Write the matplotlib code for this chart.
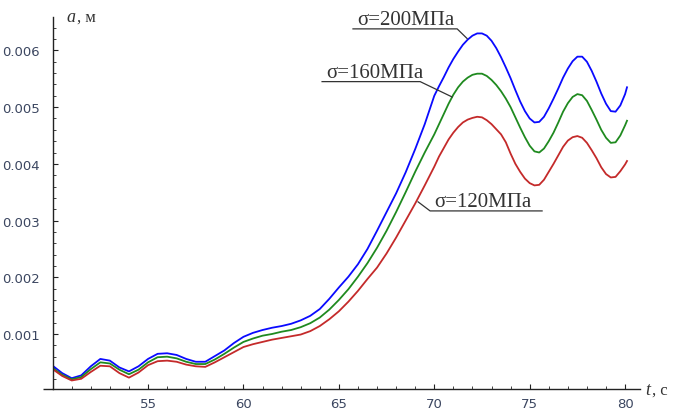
import matplotlib
matplotlib.use("Agg")
import matplotlib.pyplot as plt
import numpy as np

t = [50.0, 50.5, 51.0, 51.5, 52.0, 52.5, 53.0, 53.5, 54.0, 54.5, 55.0, 55.5, 56.0, 56.5,
     57.0, 57.5, 58.0, 58.5, 59.0, 59.5, 60.0, 60.5, 61.0, 61.5, 62.0, 62.5, 63.0, 63.5,
     64.0, 64.5, 65.0, 65.5, 66.0, 66.5, 67.0, 67.5, 68.0, 68.5, 69.0, 69.5,
     70.0, 70.25, 70.5, 70.75, 71.0, 71.25, 71.5, 71.75, 72.0, 72.25, 72.5, 72.75,
     73.0, 73.25, 73.5, 73.75, 74.0, 74.25, 74.5, 74.75, 75.0, 75.25, 75.5, 75.75,
     76.0, 76.25, 76.5, 76.75, 77.0, 77.25, 77.5, 77.75, 78.0, 78.25, 78.5, 78.75,
     79.0, 79.25, 79.5, 79.75, 80.0, 80.1]

a_200 = [0.00044, 0.00031, 0.00022, 0.00027, 0.00043, 0.00056, 0.00053, 0.00041, 0.00034,
         0.00043, 0.00056, 0.00065, 0.00066, 0.00063, 0.00056, 0.00051, 0.00051, 0.00061,
         0.00071, 0.00084, 0.00095, 0.00102, 0.00107, 0.00111, 0.00114, 0.00118, 0.00124,
         0.00132, 0.00144, 0.00162, 0.00182, 0.00201, 0.00223, 0.00250, 0.00282, 0.00315,
         0.00348, 0.00385, 0.00426, 0.00470,
         0.00520, 0.00537, 0.00553, 0.00570, 0.00585, 0.00598, 0.00610, 0.00619, 0.00626,
         0.00630, 0.00630, 0.00626, 0.00617, 0.00604, 0.00588, 0.00570, 0.00551, 0.00530,
         0.00510, 0.00493, 0.00480, 0.00473, 0.00474, 0.00483, 0.00498, 0.00515, 0.00533,
         0.00552, 0.00568, 0.00581, 0.00589, 0.00589, 0.00580, 0.00564, 0.00545, 0.00524,
         0.00506, 0.00493, 0.00492, 0.00503, 0.00523, 0.00535]

a_160 = [0.00040, 0.00028, 0.00020, 0.00024, 0.00038, 0.00050, 0.00048, 0.00037, 0.00029,
         0.00037, 0.00050, 0.00059, 0.00060, 0.00057, 0.00051, 0.00047, 0.00047, 0.00055,
         0.00065, 0.00076, 0.00086, 0.00092, 0.00097, 0.00100, 0.00104, 0.00107, 0.00112,
         0.00119, 0.00129, 0.00143, 0.00160, 0.00179, 0.00201, 0.00225, 0.00252, 0.00282,
         0.00315, 0.00350, 0.00386, 0.00420,
         0.00452, 0.00470, 0.00488, 0.00506, 0.00522, 0.00535, 0.00545, 0.00552, 0.00557,
         0.00559, 0.00559, 0.00555, 0.00548, 0.00539, 0.00528, 0.00515, 0.00500, 0.00482,
         0.00464, 0.00447, 0.00432, 0.00422, 0.00420, 0.00427, 0.00440, 0.00455, 0.00473,
         0.00492, 0.00507, 0.00518, 0.00523, 0.00521, 0.00511, 0.00495, 0.00478, 0.00460,
         0.00446, 0.00437, 0.00438, 0.00450, 0.00468, 0.00476]

a_120 = [0.00038, 0.00026, 0.00018, 0.00021, 0.00033, 0.00044, 0.00043, 0.00031, 0.00023,
         0.00032, 0.00045, 0.00052, 0.00053, 0.00051, 0.00046, 0.00043, 0.00042, 0.00050,
         0.00059, 0.00068, 0.00077, 0.00082, 0.00086, 0.00090, 0.00093, 0.00096, 0.00099,
         0.00105, 0.00114, 0.00126, 0.00140, 0.00157, 0.00176, 0.00197, 0.00217, 0.00242,
         0.00270, 0.00300, 0.00330, 0.00362,
         0.00395, 0.00413, 0.00428, 0.00443, 0.00455, 0.00465, 0.00473, 0.00478, 0.00481,
         0.00483, 0.00482, 0.00477, 0.00470, 0.00461, 0.00452, 0.00438, 0.00418, 0.00400,
         0.00386, 0.00374, 0.00366, 0.00362, 0.00363, 0.00372, 0.00386, 0.00400, 0.00415,
         0.00430, 0.00441, 0.00447, 0.00449, 0.00446, 0.00437, 0.00424, 0.00410, 0.00394,
         0.00382, 0.00376, 0.00377, 0.00387, 0.00399, 0.00405]

x_ticks = [55, 60, 65, 70, 75, 80]
y_ticks = [0.001, 0.002, 0.003, 0.004, 0.005, 0.006]
y_tick_labels = ["0.001", "0.002", "0.003", "0.004", "0.005", "0.006"]
labels = ["σ=200МПа", "σ=160МПа", "σ=120МПа"]

fig = plt.figure(figsize=(6.73, 4.14), dpi=100)
ax = fig.add_axes([0.0782, 0.058, 0.8733, 0.8986])
ax.set_xlim(50, 80.8)
ax.set_ylim(0.00003, 0.00659)

ax.plot(t, a_200, color="#0a0aff", lw=1.3)
ax.plot(t, a_160, color="#1f8a1f", lw=1.3)
ax.plot(t, a_120, color="#c42a2a", lw=1.3)

for s in ["top", "right"]:
    ax.spines[s].set_visible(False)
for s in ["left", "bottom"]:
    ax.spines[s].set_color("#222222")
    ax.spines[s].set_linewidth(1.0)
# Mathematica-style axis crossing: x axis sticks out a little to the left
ax.plot([-0.017, 0], [0, 0], transform=ax.transAxes, color="#222222", lw=1.0,
        clip_on=False, solid_capstyle="butt")

tick_col = "#3b4660"
ax.set_xticks(x_ticks)
ax.set_xticklabels([str(v) for v in x_ticks])
ax.set_xticks(np.arange(51, 81, 1), minor=True)
ax.set_yticks(y_ticks)
ax.set_yticklabels(y_tick_labels)
ax.set_yticks(np.arange(0.0002, 0.0066, 0.0002), minor=True)
ax.tick_params(axis="both", which="major", direction="in", length=3.5, width=0.8,
               color="#222222", labelsize=9.5, labelcolor=tick_col)
ax.tick_params(axis="both", which="minor", direction="in", length=2.0, width=0.6,
               color="#222222")
ax.tick_params(axis="x", pad=6)
ax.tick_params(axis="y", pad=9)
for lbl in ax.get_xticklabels() + ax.get_yticklabels():
    lbl.set_family("DejaVu Sans")

# axis labels
fig.text(66 / 673, 1 - 22 / 414, "a", family="Liberation Serif", style="italic",
         fontsize=13, color="#333333", va="baseline")
fig.text(77 / 673, 1 - 22 / 414, ", м", family="Liberation Serif",
         fontsize=12, color="#333333", va="baseline")
fig.text(645 / 673, 1 - 395 / 414, "t", family="Liberation Serif", style="italic",
         fontsize=13, color="#333333", va="baseline")
fig.text(652 / 673, 1 - 395 / 414, ", c", family="Liberation Serif",
         fontsize=12, color="#333333", va="baseline")

# curve labels with underline and leader lines
txt_kw = dict(family="Liberation Serif", fontsize=15, color="#333333", va="baseline")
line_kw = dict(color="#333333", lw=0.9, clip_on=False)

ax.text(65.95, 0.00646, labels[0], **txt_kw)
ax.plot([65.74, 71.2, 71.72], [0.00638, 0.00638, 0.00621], **line_kw)

ax.text(64.33, 0.00553, labels[1], **txt_kw)
ax.plot([64.12, 69.26, 70.93], [0.00545, 0.00545, 0.00518], **line_kw)

ax.text(70.0, 0.00326, labels[2], **txt_kw)
ax.plot([75.65, 69.78, 69.15], [0.00317, 0.00317, 0.00333], **line_kw)

fig.savefig("out.png", dpi=100)
